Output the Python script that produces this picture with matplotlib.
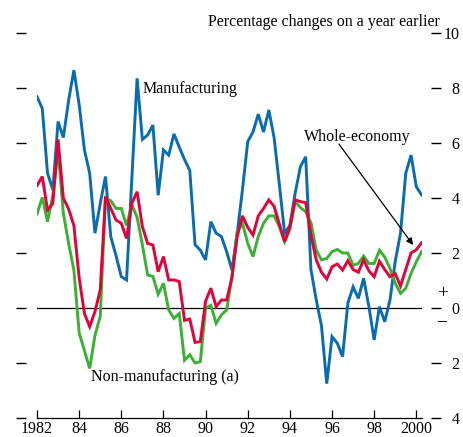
import numpy as np
import pandas as pd
import matplotlib
matplotlib.use("Agg")
import matplotlib.pyplot as plt

plt.rcParams['font.family'] = ['Liberation Serif', 'DejaVu Serif']

# Quarterly data, 1982 Q1 onwards (percentage changes on a year earlier)
start_quarter = '1982Q1'

manufacturing = [
    7.68, 7.26, 4.9, 4.3, 6.78, 6.2, 7.55, 8.65, 7.4, 5.75,
    4.9, 2.72, 3.8, 4.78, 2.6, 1.9, 1.14, 1.02, 4.7, 8.35,
    6.13, 6.29, 6.65, 4.1, 5.75, 5.56, 6.33, 5.85, 5.4, 5.0,
    2.3, 2.1, 1.75, 3.14, 2.72, 2.6, 2.05, 1.38, 2.72, 4.3,
    6.05, 6.4, 7.05, 6.4, 7.2, 6.2, 4.5, 2.72, 3.0, 4.17,
    5.14, 5.5, 1.4, 0.3, -0.65, -2.75, -1.04, -1.28, -1.77, 0.17,
    0.77, 0.35, 1.08, 0.05, -1.16, 0.05, -0.5, 0.29, 1.7, 2.72,
    4.9, 5.56, 4.41, 4.11,
]

whole_economy = [
    4.45, 4.78, 3.56, 3.8, 6.13, 4.0, 3.6, 3.0, 1.1, -0.2,
    -0.68, -0.13, 0.65, 4.05, 3.62, 3.2, 3.08, 2.53, 3.8, 4.23,
    2.96, 2.35, 2.29, 1.32, 1.87, 1.02, 1.02, 0.96, -0.45, -0.4,
    -1.25, -1.22, 0.25, 0.72, 0.05, 0.29, 0.29, 1.1, 2.6, 3.35,
    2.93, 2.65, 3.35, 3.62, 3.93, 3.7, 3.05, 2.41, 2.96, 3.93,
    3.87, 3.83, 2.65, 1.75, 1.3, 1.05, 1.5, 1.6, 1.38, 1.72,
    1.4, 1.3, 1.75, 1.35, 1.14, 1.7, 1.4, 1.14, 1.25, 0.8,
    1.4, 2.0, 2.12, 2.37,
]

non_manufacturing = [
    3.42, 4.02, 3.14, 4.1, 5.75, 3.44, 2.35, 1.38, -0.9, -1.55,
    -2.2, -1.0, -0.3, 4.0, 3.9, 3.62, 3.62, 3.0, 3.75, 3.3,
    2.3, 1.2, 1.15, 0.5, 0.9, -0.07, -0.38, -0.2, -1.9, -1.7,
    -2.0, -1.95, 0.0, 0.1, -0.56, -0.25, -0.07, 1.14, 2.78, 3.08,
    2.35, 1.87, 2.6, 3.08, 3.35, 3.35, 2.96, 2.41, 2.85, 3.87,
    3.65, 3.5, 3.1, 2.1, 1.75, 1.8, 2.05, 2.13, 2.0, 2.0,
    1.55, 1.62, 1.89, 1.62, 1.62, 2.1, 1.85, 1.44, 0.9, 0.53,
    0.72, 1.26, 1.68, 2.05,
]

x_tick_years = [1982, 1984, 1986, 1988, 1990, 1992, 1994, 1996, 1998, 2000]
x_tick_labels = ['1982', '84', '86', '88', '90', '92', '94', '96', '98', '2000']
y_ticks = [10, 8, 6, 4, 2, 0, -2, -4]
y_tick_labels = ['10', '8', '6', '4', '2', '0', '2', '4']

periods = pd.period_range(start_quarter, periods=len(manufacturing), freq='Q')
x = periods.year + (periods.quarter - 1) / 4.0

W, H = 463, 437
fig = plt.figure(figsize=(W / 100, H / 100), dpi=100)
ax = fig.add_axes([37 / W, 19 / H, (422 - 37) / W, (418 - 33) / H])

blue = '#0a6cb0'
red = '#e2013b'
green = '#3cb034'
lw = 2.1

ax.axhline(0, color='black', lw=0.9, zorder=1)
ax.plot(x, manufacturing, color=blue, lw=lw, zorder=3, solid_joinstyle='miter')
ax.plot(x, non_manufacturing, color=green, lw=lw, zorder=3, solid_joinstyle='miter')
ax.plot(x, whole_economy, color=red, lw=lw, zorder=4, solid_joinstyle='miter')

ax.set_xlim(1982, 2000.27)
ax.set_ylim(-4, 10)

for s in ['top', 'left', 'right']:
    ax.spines[s].set_visible(False)
ax.spines['bottom'].set_linewidth(0.9)
ax.spines['left'].set_position(('outward', 7.9))
ax.spines['right'].set_position(('outward', 6.3))

ax.set_xticks(x_tick_years)
ax.set_xticklabels(x_tick_labels)
ax.tick_params(axis='x', direction='in', length=5.8, width=0.9, pad=2,
               labelsize=11.5, colors='black')
ax.set_yticks(y_ticks)
ax.set_yticklabels(y_tick_labels)
ax.tick_params(axis='y', which='both', left=True, right=True, labelleft=False,
               labelright=True, direction='out', length=7.5, width=1.0,
               pad=13.2, labelsize=11.5)
for t in ax.yaxis.get_major_ticks():
    t.label2.set_horizontalalignment('right')

fs = 11.5
ax.text(1987.03, 7.82, 'Manufacturing', fontsize=fs, va='baseline', ha='left')
ax.text(1994.67, 6.07, 'Whole-economy', fontsize=fs, va='baseline', ha='left')
ax.text(1984.56, -2.65, 'Non-manufacturing (a)', fontsize=fs, va='baseline', ha='left')

ax.annotate('', xy=(1999.85, 2.29), xytext=(1996.33, 5.96),
            arrowprops=dict(arrowstyle='-|>', lw=0.9, color='black',
                            mutation_scale=10, shrinkA=0, shrinkB=0))

fig.text(440 / W, 1 - 26 / H, 'Percentage changes on a year earlier',
         fontsize=fs, ha='right', va='baseline')
fig.text(443 / W, 1 - 294 / H, '+', fontsize=14, ha='center', va='center')
fig.text(443 / W, 1 - 324 / H, '\u2212', fontsize=14, ha='center', va='center')

fig.savefig('out.png', dpi=100)
